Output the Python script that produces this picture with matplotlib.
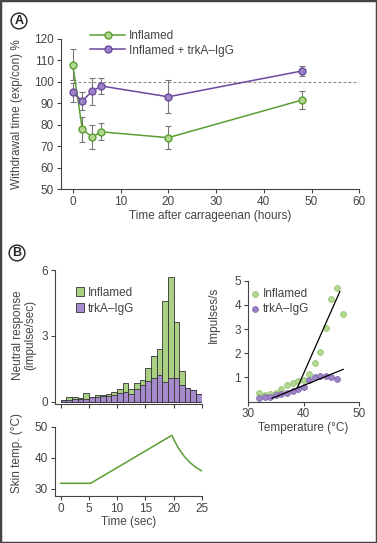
import numpy as np
import matplotlib
matplotlib.use("Agg")
from matplotlib import pyplot as plt
from matplotlib.patches import Rectangle

plt.rcParams['font.family'] = ['Liberation Sans', 'DejaVu Sans']
plt.rcParams['font.size'] = 8.5
TXT = '#444444'
plt.rcParams['text.color'] = TXT
plt.rcParams['axes.labelcolor'] = TXT
plt.rcParams['xtick.color'] = TXT
plt.rcParams['ytick.color'] = TXT
plt.rcParams['axes.edgecolor'] = '#444444'
plt.rcParams['axes.linewidth'] = 0.8

# ---- panel A data ----
hours = [0, 2, 4, 6, 20, 48]
infl = [108, 78, 74.3, 76.7, 74, 91.5]
infl_err = [7, 5.8, 5.8, 3.9, 5.5, 4.2]
trka = [95, 91, 95.5, 98, 93, 105]
trka_err = [4.6, 4.2, 6.3, 3.6, 7.6, 2.5]

# ---- panel B histogram data (1 s bins) ----
bin_start = np.arange(25)
hist_infl = [0.1, 0.2, 0.23, 0.18, 0.38, 0.2, 0.32, 0.3, 0.33, 0.44, 0.6, 0.87, 0.6,
             0.85, 1.0, 1.55, 2.08, 2.39, 4.6, 5.7, 3.65, 1.4, 0.62, 0.52, 0.35]
hist_trka = [0.08, 0.1, 0.12, 0.13, 0.14, 0.2, 0.22, 0.26, 0.24, 0.3, 0.38, 0.44, 0.37,
             0.6, 0.78, 0.94, 1.1, 1.23, 0.9, 1.1, 1.1, 0.76, 0.62, 0.52, 0.35]

# ---- skin temperature protocol ----
t_sec = [0, 5.3, 19.7, 20.3, 21, 22, 23, 24, 25]
skin_temp = [31.7, 31.7, 47.2, 45.0, 42.7, 40.2, 38.3, 36.8, 35.7]

# ---- impulses vs temperature ----
temp_infl = np.arange(32, 48)
imp_infl = [0.37, 0.27, 0.31, 0.34, 0.52, 0.7, 0.78, 0.86, 0.9, 1.15, 1.58, 2.05, 3.06,
            4.26, 4.7, 3.63]
temp_trka = np.arange(32, 47)
imp_trka = [0.15, 0.18, 0.2, 0.25, 0.3, 0.35, 0.42, 0.5, 0.62, 0.9, 1.0, 1.05, 1.05,
            1.0, 0.95]
fit_lo_x = [34.3, 47.1]
fit_lo_y = [0.13, 1.33]
fit_hi_x = [38.9, 46.5]
fit_hi_y = [0.59, 4.55]

G_LINE = '#5a9e32'
G_FACE = '#b3d78f'
P_LINE = '#6a4a9e'
P_FACE = '#9d83c6'

W, H = 377, 543
fig = plt.figure(figsize=(W / 100, H / 100), dpi=100)


def box(l, t, r, b):
    return [l / W, 1 - b / H, (r - l) / W, (b - t) / H]


def clean(ax):
    ax.spines['top'].set_visible(False)
    ax.spines['right'].set_visible(False)
    ax.tick_params(length=3, width=0.8, pad=2, labelsize=8.5)


# ================= panel A =================
ax = fig.add_axes(box(60.8, 38.7, 359.3, 189.3))
clean(ax)
ax.plot([0, 60], [100, 100], color='#888888', lw=0.8, dashes=(2.5, 2))
ax.errorbar(hours, infl, yerr=infl_err, fmt='none', ecolor='#777777', elinewidth=0.8,
            capsize=2, capthick=0.8)
ax.errorbar(hours, trka, yerr=trka_err, fmt='none', ecolor='#777777', elinewidth=0.8,
            capsize=2, capthick=0.8)
ax.plot(hours, infl, '-o', color=G_LINE, mfc=G_FACE, mec=G_LINE, ms=5, lw=1.1,
        label='Inflamed')
ax.plot(hours, trka, '-o', color=P_LINE, mfc=P_FACE, mec=P_LINE, ms=5, lw=1.1,
        label='Inflamed + trkA\u2013IgG')
ax.set_xlim(-2.5, 60)
ax.set_ylim(50, 120)
ax.set_xticks(range(0, 61, 10))
ax.set_yticks(range(50, 121, 10))
ax.set_xlabel('Time after carrageenan (hours)', labelpad=1)
ax.set_ylabel('Withdrawal time (exp/con) %')
ax.yaxis.set_label_coords(-0.128, 0.5)
ax.legend(loc='upper left', bbox_to_anchor=(0.098, 1.06), frameon=False, borderpad=0,
          borderaxespad=0, handlelength=3.0, handletextpad=0.3, labelspacing=0.25)

# ================= panel B histogram =================
axh = fig.add_axes(box(55.06, 270, 201.7, 403.5))
clean(axh)
axh.bar(bin_start, hist_infl, width=1, align='edge', color='#a9d083', edgecolor='#333333',
        lw=0.6, label='Inflamed')
axh.bar(bin_start, hist_trka, width=1, align='edge', color='#a58bcc', edgecolor='#333333',
        lw=0.6, label='trkA\u2013IgG')
axh.set_xlim(-1, 25)
axh.set_ylim(-0.08, 6)
axh.set_xticks(range(0, 26, 5))
axh.set_xticklabels([])
axh.set_yticks([0, 3, 6])
axh.set_ylabel('Neutral response\n(impulse/sec)', linespacing=1.05)
axh.yaxis.set_label_coords(-0.126, 0.51)
axh.legend(loc='upper left', bbox_to_anchor=(0.14, 0.875), frameon=False, borderpad=0,
           borderaxespad=0, handlelength=0.75, handleheight=0.75, handletextpad=0.3,
           labelspacing=0.35)

# ================= skin temperature =================
axs = fig.add_axes(box(55.06, 426.7, 201.7, 496))
clean(axs)
axs.plot(t_sec, skin_temp, color=G_LINE, lw=1.1)
axs.set_xlim(-1, 25)
axs.set_ylim(27.6, 50)
axs.set_xticks(range(0, 26, 5))
axs.set_yticks([30, 40, 50])
axs.set_xlabel('Time (sec)', labelpad=1)
axs.set_ylabel('Skin temp. (\u00b0C)')
axs.yaxis.set_label_coords(-0.222, 0.62)

# ================= impulses vs temperature =================
axt = fig.add_axes(box(248, 280.7, 359.3, 401.5))
clean(axt)
axt.scatter(temp_infl, imp_infl, s=18, color=G_FACE, edgecolor='#8fc06a', lw=0.5,
            zorder=3, label='Inflamed')
axt.scatter(temp_trka, imp_trka, s=18, color=P_FACE, edgecolor='#7d62aa', lw=0.5,
            zorder=3, label='trkA\u2013IgG')
axt.plot(fit_lo_x, fit_lo_y, color='black', lw=0.9, zorder=4)
axt.plot(fit_hi_x, fit_hi_y, color='black', lw=0.9, zorder=4)
axt.set_xlim(30, 50)
axt.set_ylim(0, 5)
axt.set_xticks([30, 40, 50])
axt.set_yticks([1, 2, 3, 4, 5])
axt.set_xlabel('Temperature (\u00b0C)', labelpad=1)
axt.set_ylabel('Impulses/s')
axt.yaxis.set_label_coords(-0.25, 0.72)
axt.legend(loc='upper left', bbox_to_anchor=(0.02, 0.94), frameon=False, borderpad=0,
           borderaxespad=0, handlelength=0.8, handletextpad=0.3, labelspacing=0.3,
           scatterpoints=1)

# panel letters
for lab, x, y in [('A', 19, 21), ('B', 17, 253)]:
    fig.text(x / W, 1 - y / H, lab, ha='center', va='center', fontsize=9, weight='bold',
             color='#222222',
             bbox=dict(boxstyle='circle,pad=0.15', fc='white', ec='#222222', lw=1.0))

# outer frame
fig.patches.append(Rectangle((0, 0), 1, 1, transform=fig.transFigure, fill=False,
                             ec='#444444', lw=2.5))

fig.savefig('out.png', dpi=100)
